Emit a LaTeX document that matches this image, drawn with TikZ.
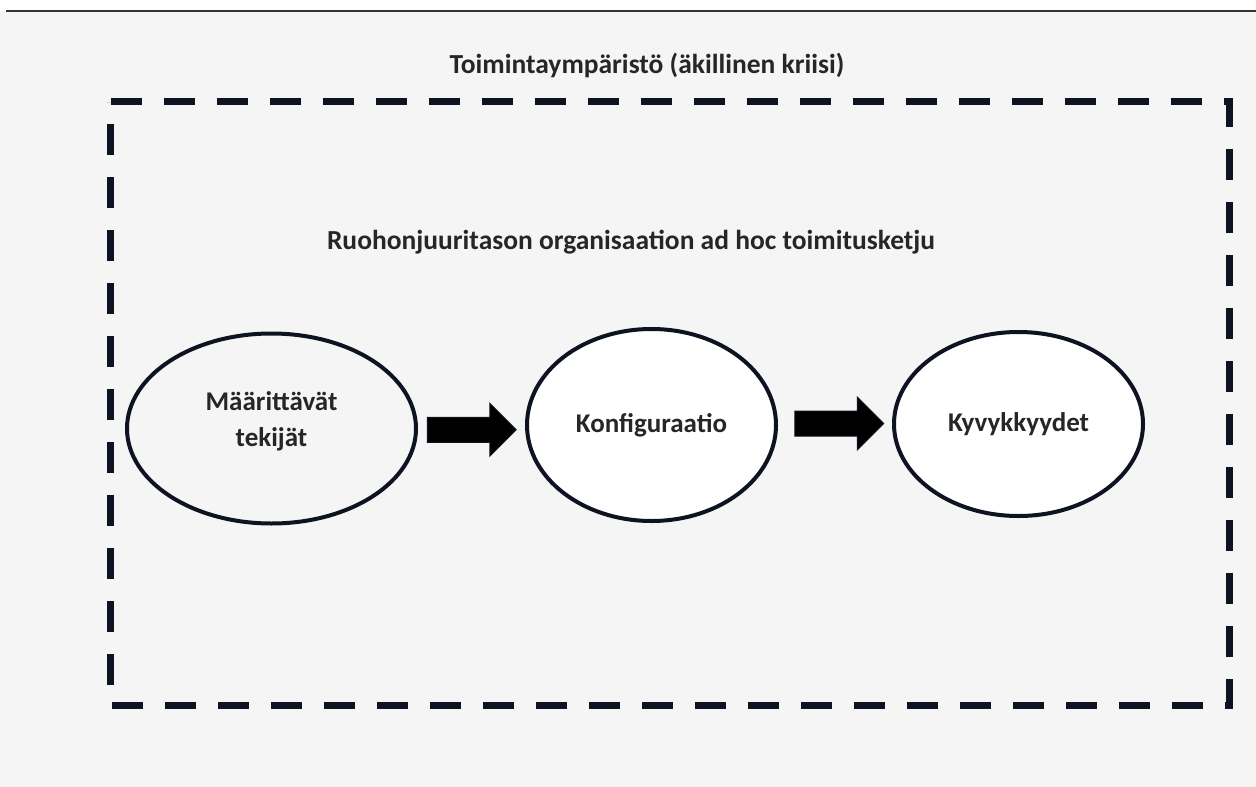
\documentclass[tikz,border=0pt]{standalone}
\usepackage{fontspec}
\setmainfont{Carlito}
\usetikzlibrary{shapes.geometric,shapes.arrows,calc}
\definecolor{bg}{HTML}{F5F5F5}
\definecolor{ink}{HTML}{0D1321}
\definecolor{txt}{HTML}{262626}
\tikzset{
  label text/.style={text=txt,font=\fontsize{27.5}{33}\selectfont\bfseries},
  phase text/.style={text=txt,align=center,inner sep=0pt,
    font=\fontsize{27}{36}\selectfont\bfseries},
  phase/.style={ellipse,draw=ink,line width=4pt,inner sep=0pt,phase text},
  blockarrow/.style={single arrow,draw=ink,fill=black,line width=1pt,
    minimum height=89pt,inner xsep=0pt,inner ysep=12pt,
    single arrow head extend=14pt,single arrow head indent=0pt,
    shape border rotate=0},
  frame/.style={draw=ink,line width=7pt,dash pattern=on 31pt off 22pt}
}
\begin{document}
\begin{tikzpicture}[x=1pt,y=-1pt]
\useasboundingbox (0,0) rectangle (1256,787);
% page and rule at the top
\fill[white] (0,0) rectangle (1256,787);
\fill[bg] (0,11) rectangle (1256,787);
\draw[line width=1.5pt,color=black!80] (6,11) -- (1256,11);
% environment frame
\draw[frame] (110.5,101.5) -- (1229,101.5) -- (1229,705.5) -- (110.5,705.5) -- cycle;
\node[label text] (env) at (647,65) {Toimintaympäristö (äkillinen kriisi)};
\node[label text] (chain) at (631,242) {Ruohonjuuritason organisaation ad hoc toimitusketju};
% phases of the supply chain
\node[phase,fill=bg,minimum width=289pt,minimum height=190pt] (factors) at (271.5,428.5) {};
\node[phase text] (factorsText) at ($(factors.center)+(0,-7)$) {Määrittävät\\tekijät};
\node[phase,fill=white,minimum width=249pt,minimum height=192pt] (config) at (651.5,425) {Konfiguraatio};
\node[phase,fill=white,minimum width=249pt,minimum height=184pt] (caps) at (1018.5,424) {Kyvykkyydet};
% block arrows between the phases
\node[blockarrow] (a1) at ($(factors.east)!0.5!(config.west)+(-6,3)$) {};
\node[blockarrow] (a2) at ($(config.east)!0.5!(caps.west)+(-2,-1)$) {};
\end{tikzpicture}
\end{document}
